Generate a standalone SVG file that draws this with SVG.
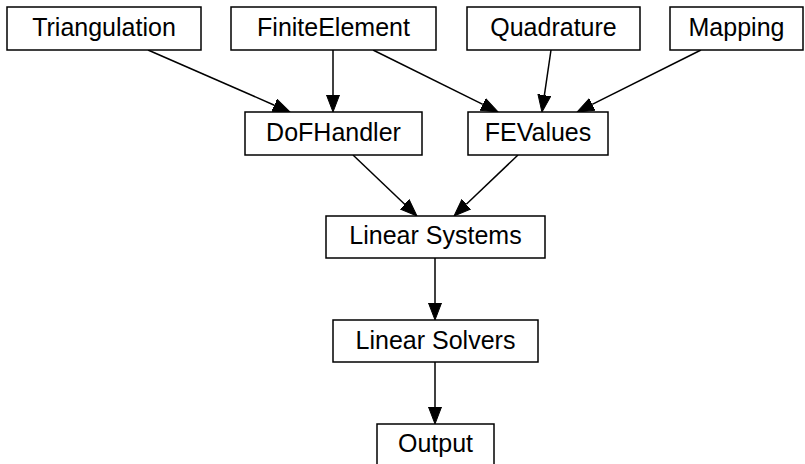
<svg xmlns="http://www.w3.org/2000/svg" width="805" height="464" viewBox="0 0 805 464">
  <style>
    .node rect { fill: #ffffff; stroke: #000000; stroke-width: 1.5; }
    .node text { font-family: "Liberation Sans", Arial, sans-serif; font-size: 25px; fill: #000000; text-anchor: middle; }
    .edges line { stroke: #000000; stroke-width: 1.5; marker-end: url(#arrow); }
  </style>
  <defs>
    <marker id="arrow" markerUnits="userSpaceOnUse" viewBox="0 -7 18 14" markerWidth="18" markerHeight="14" refX="0" refY="0" orient="auto">
      <path d="M0,-6.5 L17,0 L0,6.5 Z" fill="#000000" stroke="#000000" stroke-width="1"/>
    </marker>
  </defs>
  <rect width="805" height="464" fill="#ffffff"/>

  <!-- connectors: each line stops at the arrowhead base -->
  <g id="edges" class="edges">
    <line x1="148" y1="50" x2="274.4" y2="105.2"/>
    <line x1="333" y1="50" x2="333" y2="95"/>
    <line x1="373" y1="50" x2="482.8" y2="104.4"/>
    <line x1="551" y1="50" x2="544.4" y2="95.2"/>
    <line x1="701" y1="50" x2="592.2" y2="104.4"/>
    <line x1="353" y1="155" x2="404.7" y2="204.3"/>
    <line x1="518" y1="155" x2="466.3" y2="204.3"/>
    <line x1="435" y1="258" x2="435" y2="303"/>
    <line x1="435" y1="362" x2="435" y2="407"/>
  </g>

  <g id="triangulation" class="node">
    <rect x="7" y="7" width="194" height="43"/>
    <text x="104" y="36">Triangulation</text>
  </g>
  <g id="finiteelement" class="node">
    <rect x="231" y="7" width="205" height="43"/>
    <text x="333.5" y="36">FiniteElement</text>
  </g>
  <g id="quadrature" class="node">
    <rect x="467" y="7" width="173" height="43"/>
    <text x="553.5" y="36">Quadrature</text>
  </g>
  <g id="mapping" class="node">
    <rect x="670" y="7" width="133" height="43"/>
    <text x="736.5" y="36">Mapping</text>
  </g>
  <g id="dofhandler" class="node">
    <rect x="245" y="112" width="177" height="43"/>
    <text x="333.5" y="140.5">DoFHandler</text>
  </g>
  <g id="fevalues" class="node">
    <rect x="468" y="112" width="140" height="43"/>
    <text x="538" y="140.5">FEValues</text>
  </g>
  <g id="linearsystems" class="node">
    <rect x="326" y="216" width="219" height="42"/>
    <text x="435.5" y="244">Linear Systems</text>
  </g>
  <g id="linearsolvers" class="node">
    <rect x="333" y="320" width="205" height="42"/>
    <text x="435.5" y="348.5">Linear Solvers</text>
  </g>
  <g id="output" class="node">
    <rect x="377" y="424" width="117" height="43"/>
    <text x="435.5" y="452">Output</text>
  </g>
</svg>
